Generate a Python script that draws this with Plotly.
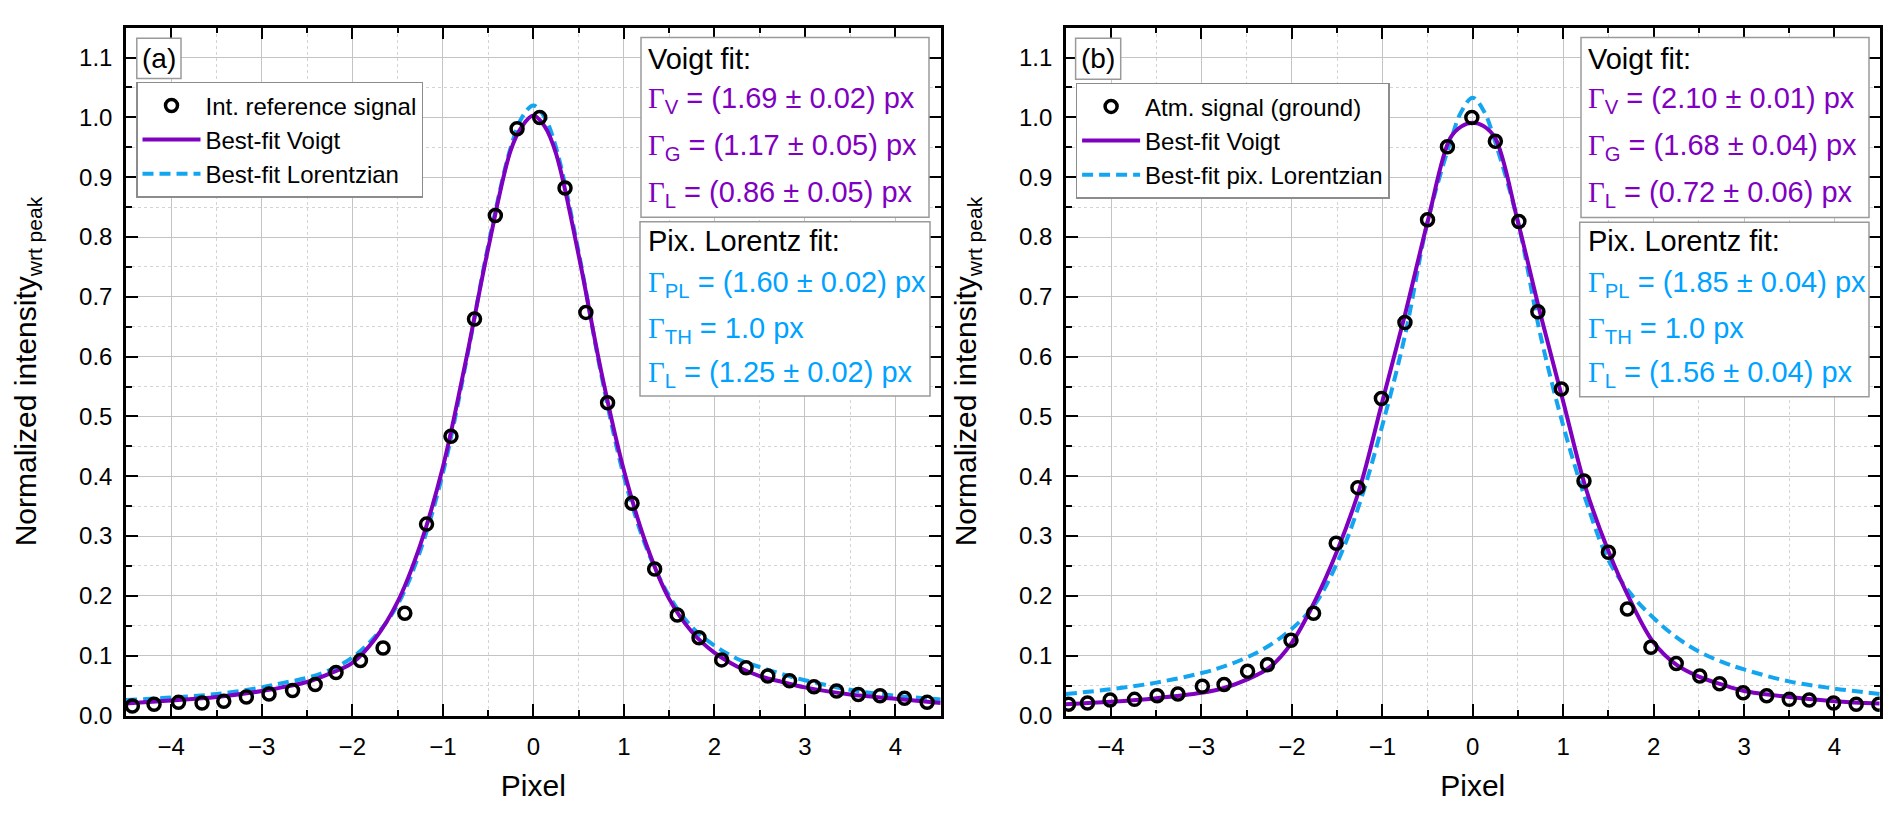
import plotly.graph_objects as go

W, H = 1892, 814
FONT = "Liberation Sans, Arial, sans-serif"
PURPLE = "#8000c0"
BLUE = "#14a5f0"
TEXT_BLUE = "#00a2ff"

# (a) internal reference signal
ref_x = [-4.43, -4.19, -3.92, -3.66, -3.42, -3.17, -2.92, -2.66, -2.41, -2.18, -1.91, -1.66,
         -1.42, -1.18, -0.91, -0.65, -0.42, -0.18, 0.07, 0.35, 0.58, 0.82, 1.09, 1.34,
         1.59, 1.83, 2.08, 2.35, 2.59, 2.83, 3.10, 3.35, 3.59, 3.83, 4.10, 4.35]
ref_y = [0.016, 0.019, 0.022, 0.021, 0.024, 0.031, 0.036, 0.042, 0.052, 0.072, 0.092, 0.113,
         0.171, 0.320, 0.467, 0.663, 0.836, 0.981, 1.000, 0.882, 0.674, 0.523, 0.355, 0.245,
         0.168, 0.130, 0.093, 0.080, 0.066, 0.058, 0.048, 0.041, 0.035, 0.033, 0.029, 0.022]

# (b) atmospheric signal (ground)
atm_x = [-4.47, -4.26, -4.01, -3.74, -3.49, -3.26, -2.99, -2.75, -2.49, -2.27, -2.01, -1.76,
         -1.51, -1.27, -1.01, -0.75, -0.50, -0.28, -0.01, 0.25, 0.51, 0.72, 0.98, 1.23,
         1.50, 1.71, 1.97, 2.25, 2.51, 2.73, 2.99, 3.25, 3.50, 3.72, 3.99, 4.24, 4.49]
atm_y = [0.019, 0.021, 0.026, 0.027, 0.033, 0.036, 0.049, 0.052, 0.074, 0.085, 0.126, 0.171,
         0.288, 0.381, 0.530, 0.657, 0.829, 0.951, 1.000, 0.960, 0.826, 0.675, 0.546, 0.392,
         0.273, 0.178, 0.114, 0.087, 0.066, 0.053, 0.038, 0.033, 0.027, 0.026, 0.021, 0.019, 0.019]

# fitted curves
curve_x = [-4.5, -4.0, -3.5, -3.0, -2.75, -2.5, -2.25, -2.0, -1.75, -1.5, -1.25, -1.0, -0.75,
           -0.5, -0.25, -0.125, 0.0, 0.125, 0.25, 0.5, 0.75, 1.0, 1.25, 1.5, 1.75, 2.0,
           2.25, 2.5, 2.75, 3.0, 3.5, 4.0, 4.5]
voigt_a = [0.020, 0.025, 0.031, 0.041, 0.048, 0.056, 0.070, 0.088, 0.128, 0.190, 0.285, 0.415, 0.590,
           0.780, 0.945, 0.985, 1.003, 0.985, 0.940, 0.770, 0.575, 0.410, 0.285, 0.195, 0.140, 0.105,
           0.082, 0.066, 0.056, 0.047, 0.035, 0.028, 0.021]
lor_a = [0.026, 0.030, 0.036, 0.047, 0.055, 0.063, 0.076, 0.097, 0.132, 0.185, 0.275, 0.405, 0.585,
         0.785, 0.950, 1.000, 1.020, 1.000, 0.950, 0.775, 0.570, 0.400, 0.280, 0.200, 0.148, 0.117,
         0.095, 0.081, 0.069, 0.059, 0.043, 0.033, 0.027]
voigt_b = [0.019, 0.023, 0.029, 0.038, 0.046, 0.060, 0.080, 0.122, 0.190, 0.275, 0.380, 0.525, 0.670,
           0.825, 0.965, 0.985, 0.991, 0.985, 0.965, 0.825, 0.670, 0.525, 0.380, 0.275, 0.190, 0.122,
           0.085, 0.065, 0.052, 0.041, 0.031, 0.024, 0.020]
lor_b = [0.036, 0.044, 0.055, 0.071, 0.082, 0.097, 0.117, 0.145, 0.185, 0.255, 0.355, 0.485, 0.635,
         0.825, 0.958, 1.010, 1.033, 1.010, 0.958, 0.825, 0.635, 0.485, 0.360, 0.260, 0.203, 0.163,
         0.131, 0.107, 0.090, 0.077, 0.057, 0.045, 0.036]

G = "<span style='font-family:Liberation Serif'>Γ</span>"
box_a = [("Voigt fit:", "black"),
         (G + "<sub>V</sub> = (1.69 ± 0.02) px", PURPLE),
         (G + "<sub>G</sub> = (1.17 ± 0.05) px", PURPLE),
         (G + "<sub>L</sub> = (0.86 ± 0.05) px", PURPLE),
         ("Pix. Lorentz fit:", "black"),
         (G + "<sub>PL</sub> = (1.60 ± 0.02) px", TEXT_BLUE),
         (G + "<sub>TH</sub> = 1.0 px", TEXT_BLUE),
         (G + "<sub>L</sub> = (1.25 ± 0.02) px", TEXT_BLUE)]
box_b = [("Voigt fit:", "black"),
         (G + "<sub>V</sub> = (2.10 ± 0.01) px", PURPLE),
         (G + "<sub>G</sub> = (1.68 ± 0.04) px", PURPLE),
         (G + "<sub>L</sub> = (0.72 ± 0.06) px", PURPLE),
         ("Pix. Lorentz fit:", "black"),
         (G + "<sub>PL</sub> = (1.85 ± 0.04) px", TEXT_BLUE),
         (G + "<sub>TH</sub> = 1.0 px", TEXT_BLUE),
         (G + "<sub>L</sub> = (1.56 ± 0.04) px", TEXT_BLUE)]


def fx(p):
    return p / W


def fy(p):
    return 1 - p / H


fig = go.Figure()

panels = [
    ("x", "y", "legend", ref_x, ref_y, voigt_a, lor_a, "Int. reference signal", "Best-fit Lorentzian"),
    ("x2", "y2", "legend2", atm_x, atm_y, voigt_b, lor_b, "Atm. signal (ground)", "Best-fit pix. Lorentzian"),
]
for xa, ya, leg, px_, py_, vo, lo, pname, lname in panels:
    fig.add_trace(go.Scatter(x=curve_x, y=lo, mode="lines", name=lname, xaxis=xa, yaxis=ya,
                             legend=leg, legendrank=3,
                             line=dict(color=BLUE, width=4, dash="11px,6px", shape="spline")))
    fig.add_trace(go.Scatter(x=curve_x, y=vo, mode="lines", name="Best-fit Voigt", xaxis=xa, yaxis=ya,
                             legend=leg, legendrank=2, line=dict(color=PURPLE, width=4, shape="spline")))
    fig.add_trace(go.Scatter(x=px_, y=py_, mode="markers", name=pname, xaxis=xa, yaxis=ya,
                             legend=leg, legendrank=1,
                             marker=dict(symbol="circle-open", size=12, color="black", line=dict(width=3.5))))

axis_common = dict(
    showline=True, linewidth=2.5, linecolor="black", mirror="ticks",
    ticks="inside", ticklen=12, tickwidth=2, tickcolor="black",
    showgrid=True, gridcolor="#c4c4c4", gridwidth=1.3, zeroline=False,
    tickfont=dict(size=24, family=FONT, color="black"),
)
xcommon = dict(axis_common, range=[-4.5, 4.5], tick0=0, dtick=1,
               minor=dict(dtick=0.5, ticks="inside", ticklen=6, tickwidth=2, tickcolor="black",
                          showgrid=True, gridcolor="#d4d4d4", griddash="dot", gridwidth=1),
               ticklabelstandoff=8,
               title=dict(text="Pixel", font=dict(size=30, family=FONT, color="black"), standoff=16))
ycommon = dict(axis_common, range=[0, 1.15], tick0=0, dtick=0.1, tickformat=".1f",
               minor=dict(dtick=0.05, ticks="inside", ticklen=6, tickwidth=2, tickcolor="black",
                          showgrid=True, gridcolor="#d4d4d4", griddash="dot", gridwidth=1),
               ticklabelstandoff=6,
               title=dict(text="Normalized intensity<sub>wrt peak</sub>",
                          font=dict(size=30, family=FONT, color="black"), standoff=34))

legend_common = dict(xanchor="left", yanchor="top", bgcolor="white", bordercolor="#8c8c8c",
                     borderwidth=1.5, font=dict(size=24, family=FONT, color="black"),
                     itemwidth=58, tracegroupgap=0)

shapes = []
annotations = []
# (panel label, label box, fit boxes, text left, box rows)
for label, lab_box, boxes, tx, rows in [
    ("(a)", (128.8, 30.7, 173, 71.7), [(633, 30, 921, 212.7), (632, 217.3, 922, 394.3)], 638, box_a),
    ("(b)", (1067.6, 30.7, 1112.7, 72.3), [(1573, 30, 1861, 213), (1571.7, 217.7, 1861, 395)], 1578, box_b),
]:
    for x0, y0, x1, y1 in [lab_box] + boxes:
        shapes.append(dict(type="rect", xref="paper", yref="paper", x0=fx(x0), x1=fx(x1),
                           y0=fy(y1), y1=fy(y0), line=dict(color="#9a9a9a", width=1.5),
                           fillcolor="white", layer="above"))
    annotations.append(dict(text=label, xref="paper", yref="paper",
                            x=fx((lab_box[0] + lab_box[2]) / 2), y=fy((lab_box[1] + lab_box[3]) / 2),
                            xanchor="center", yanchor="middle", showarrow=False,
                            font=dict(size=28, family=FONT, color="black")))
    centers = [51.7, 94, 141.7, 189, 236.7, 280, 327, 372]
    for (txt, col), cy in zip(rows, centers):
        annotations.append(dict(text=txt, xref="paper", yref="paper", x=fx(tx), y=fy(cy),
                                xanchor="left", yanchor="middle", showarrow=False,
                                font=dict(size=29, family=FONT, color=col)))

fig.update_layout(
    width=W, height=H,
    margin=dict(l=0, r=0, t=0, b=0),
    paper_bgcolor="white", plot_bgcolor="white",
    font=dict(family=FONT, color="black"),
    xaxis=dict(xcommon, domain=[fx(118), fx(932.7)], anchor="y"),
    yaxis=dict(ycommon, domain=[fy(719), fy(20)], anchor="x"),
    xaxis2=dict(xcommon, domain=[fx(1057.8), fx(1871.7)], anchor="y2"),
    yaxis2=dict(ycommon, domain=[fy(719), fy(20)], anchor="x2"),
    legend=dict(legend_common, x=fx(128), y=fy(75)),
    legend2=dict(legend_common, x=fx(1067.6), y=fy(76)),
    shapes=shapes,
    annotations=annotations,
)

fig.write_html("out.html")
